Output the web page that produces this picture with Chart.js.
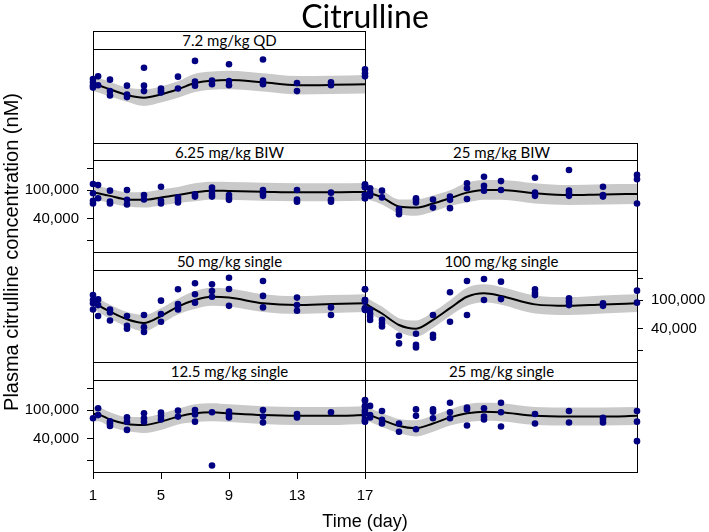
<!DOCTYPE html>
<html>
<head>
<meta charset="utf-8">
<title>Citrulline</title>
<script src="https://cdn.jsdelivr.net/npm/chart.js@4.4.1/dist/chart.umd.min.js"></script>
<style>
  html, body { margin:0; padding:0; background:#fff; }
  #wrap { position:relative; width:709px; height:532px; overflow:hidden; background:#fff; }
  #wrap canvas { position:absolute; left:0; top:0; }
  .txt { position:absolute; color:#000; white-space:nowrap; text-align:center; }
  .strip { position:absolute; box-sizing:border-box; border:1px solid #000; background:#fff;
           text-align:center; font-family:Lato, sans-serif; font-size:15px; line-height:17px; color:#000; }
</style>
</head>
<body>
<div id="wrap"></div>
<script>
// ---------------- data ----------------
const DAYS = [1, 1.3, 2, 3, 4, 5, 6, 7, 8, 9, 11, 13, 15, 17];
const X_TICKS = [1, 5, 9, 13, 17];
const Y_TICKS = [20000, 40000, 100000, 200000];
const Y_TICK_LABELS = ['', '40,000', '100,000', ''];
const X_MIN = 1, X_MAX = 17;
const Y_MIN = 13800, Y_MAX = 261000;

const PANEL_TITLES = ['7.2 mg/kg QD', '6.25 mg/kg BIW', '25 mg/kg BIW', '50 mg/kg single',
                      '100 mg/kg single', '12.5 mg/kg single', '25 mg/kg single'];

// 7.2 mg/kg QD
const medQD72 = [87000,84000,74000,62000,57000,63000,74000,90000,97000,99000,92000,84000,85000,87000];
const hiQD72  = [109000,105000,93000,78000,74000,81000,95000,120000,129000,132000,122000,112000,113000,116000];
const loQD72  = [70000,67000,59000,50000,44000,49000,57000,68000,73000,74000,69000,63000,64000,65000];
const obsQD72 = [[102000,92000,83000,78000],[111000,84000],[100000,70000,61000],[83000,63000,58000],
  [145000,83000,70000],[76000,70000,67000],[110000,76000],[180000,94000,83000],[97000,87000],
  [162000,96000,84000],[188000,97000,87000],[90000,70000],[92000,84000],[138000,122000,111000]];

// 6.25 mg/kg BIW
const medBIW625 = [93000,90000,83000,74000,73000,79000,85000,93000,98000,97000,95000,93000,93000,94000];
const hiBIW625  = [116000,113000,104000,93000,94000,102000,110000,124000,130000,129000,126000,124000,124000,125000];
const loBIW625  = [74000,72000,66000,59000,57000,61000,66000,70000,74000,73000,71000,70000,70000,71000];
const obsBIW625 = [[121000,90000,71000,65000],[117000,77000],[98000,69000,65000],[100000,73000,63000],
  [85000,74000],[111000,71000,65000],[79000,73000,67000],[87000,81000],[108000,98000,88000,81000],
  [85000,78000,73000],[100000,90000,83000],[100000,74000,69000],[92000,74000,69000],[120000,109000,85000,77000]];

// 25 mg/kg BIW
const medBIW25 = [93000,90000,79000,59000,57000,65000,77000,92000,100000,100000,90000,85000,87000,88000];
const hiBIW25  = [116000,113000,99000,74000,74000,84000,99000,127000,138000,138000,124000,117000,120000,121000];
const loBIW25  = [74000,72000,63000,47000,44000,50000,60000,67000,73000,73000,65000,62000,63000,64000];
const obsBIW25 = [[117000,109000,85000,77000],[106000,92000,83000],[98000,79000],[54000,50000,46000],
  [77000,73000,67000],[74000,57000],[81000,73000,56000],[124000,106000,75000],[153000,114000,98000],
  [133000,100000],[148000,92000,83000],[190000,98000,90000,83000],[111000,85000,81000],[162000,141000,65000]];

// 50 mg/kg single
const medS50 = [95000,85000,69000,54000,48000,60000,81000,100000,111000,108000,90000,85000,88000,90000];
const hiS50  = [119000,106000,86000,68000,62000,77000,104000,133000,148000,144000,120000,113000,117000,120000];
const loS50  = [76000,68000,55000,43000,37000,47000,63000,75000,83000,81000,68000,64000,66000,68000];
const obsS50 = [[117000,100000,90000,74000],[102000,85000,60000],[74000,67000,52000],[60000,44000,40000],
  [62000,42000,36000],[98000,64000,50000],[141000,88000,79000,74000],[171000,120000,92000],
  [165000,133000,111000],[204000,142000,83000],[184000,114000,79000],[108000,85000,71000],
  [79000,62000],[141000,100000,77000,73000]];

// 100 mg/kg single
const medS100 = [90000,81000,65000,45000,40000,53000,77000,111000,124000,114000,87000,83000,87000,90000];
const hiS100  = [113000,101000,81000,56000,52000,68000,99000,148000,165000,152000,116000,110000,116000,120000];
const loS100  = [72000,65000,52000,36000,31000,41000,60000,83000,93000,86000,65000,62000,65000,68000];
const obsS100 = [[141000,100000,95000,77000,73000],[73000,65000,59000,53000],[53000,47000,43000],
  [32000,25000],[34000,24000,22000],[62000,33000,30000],[128000,50000],[184000,62000],[196000,100000],
  [180000,103000],[141000,126000,117000],[106000,95000,85000],[90000,83000],[135000,92000]];

// 12.5 mg/kg single
const medS125 = [88000,87000,74000,64000,62000,69000,81000,90000,93000,90000,85000,83000,83000,85000];
const hiS125  = [110000,109000,93000,80000,80000,89000,104000,120000,124000,120000,113000,110000,110000,113000];
const loS125  = [70000,70000,59000,51000,48000,53000,63000,68000,70000,68000,64000,62000,62000,64000];
const obsS125 = [[77000],[106000,85000],[70000,65000,60000],[79000,69000,53000],[90000,77000,69000],
  [92000,83000,74000],[98000,81000],[100000,87000,69000],[93000,17000],[95000,85000,79000],
  [100000,81000,67000],[88000,79000],[93000],[138000,114000,95000,81000,70000]];

// 25 mg/kg single
const medS25 = [90000,85000,73000,60000,56000,65000,79000,90000,95000,93000,83000,81000,81000,83000];
const hiS25  = [113000,106000,91000,75000,72000,84000,102000,120000,126000,124000,110000,108000,108000,110000];
const loS25  = [72000,68000,58000,48000,43000,50000,61000,68000,71000,70000,62000,61000,61000,62000];
const obsS25 = [[135000,111000,100000,90000,74000,69000],[114000,85000,79000],[97000,73000,65000],
  [65000,50000],[102000,83000,54000],[102000,95000,77000],[126000,93000,77000],[108000,102000,61000],
  [106000,81000,74000],[126000,93000,59000],[88000,65000],[97000,67000],[78000,73000,67000],[97000,69000,37000]];

// ---------------- layout / style ----------------
const W = 709, H = 532, AX_LEFT = 90, AX_RIGHT = 70, AX_BOTTOM = 40;
const NAVY = '#000080', BAND = '#c9c9c9';
const TICK_FONT = { family: '"Liberation Sans", Arial, sans-serif', size: 15 };

const PANELS = [
  { title: PANEL_TITLES[0], med: medQD72,   hi: hiQD72,   lo: loQD72,   obs: obsQD72,   rect: [93, 49, 365, 143],  strip: 31,  yAxis: null,    xAxis: false },
  { title: PANEL_TITLES[1], med: medBIW625, hi: hiBIW625, lo: loBIW625, obs: obsBIW625, rect: [93, 160, 365, 252], strip: 143, yAxis: 'left',  xAxis: false },
  { title: PANEL_TITLES[2], med: medBIW25,  hi: hiBIW25,  lo: loBIW25,  obs: obsBIW25,  rect: [365, 160, 637, 252],strip: 143, yAxis: null,    xAxis: false },
  { title: PANEL_TITLES[3], med: medS50,    hi: hiS50,    lo: loS50,    obs: obsS50,    rect: [93, 270, 365, 362], strip: 252, yAxis: null,    xAxis: false },
  { title: PANEL_TITLES[4], med: medS100,   hi: hiS100,   lo: loS100,   obs: obsS100,   rect: [365, 270, 637, 362],strip: 252, yAxis: 'right', xAxis: false },
  { title: PANEL_TITLES[5], med: medS125,   hi: hiS125,   lo: loS125,   obs: obsS125,   rect: [93, 380, 365, 472], strip: 362, yAxis: 'left',  xAxis: true },
  { title: PANEL_TITLES[6], med: medS25,    hi: hiS25,    lo: loS25,    obs: obsS25,    rect: [365, 380, 637, 472],strip: 362, yAxis: null,    xAxis: false }
];

const wrap = document.getElementById('wrap');

const framePlugin = {
  id: 'frame',
  afterDatasetDraw(chart, args) {
    if (args.index !== 1) return;
    const a = chart.chartArea, c = chart.ctx;
    c.save();
    c.strokeStyle = '#000'; c.lineWidth = 1;
    c.strokeRect(Math.round(a.left) + 0.5, Math.round(a.top) + 0.5,
                 Math.round(a.right - a.left), Math.round(a.bottom - a.top));
    c.restore();
  }
};

function makePanel(p) {
  const cv = document.createElement('canvas');
  cv.width = W; cv.height = H;
  cv.style.width = W + 'px'; cv.style.height = H + 'px';
  wrap.appendChild(cv);
  const [l, t, r, b] = p.rect;
  const pts = [];
  p.obs.forEach((vals, i) => vals.forEach(v => pts.push({ x: DAYS[i], y: v })));
  const series = arr => arr.map((v, i) => ({ x: DAYS[i], y: v }));
  const padding = {
    left: l - (p.yAxis === 'left' ? AX_LEFT : 0),
    right: W - r - (p.yAxis === 'right' ? AX_RIGHT : 0),
    top: t,
    bottom: H - b - (p.xAxis ? AX_BOTTOM : 0)
  };
  new Chart(cv, {
    type: 'line',
    data: { datasets: [
      { data: pts, showLine: false, pointRadius: 3.3, pointBackgroundColor: NAVY, pointBorderColor: NAVY,
        pointBorderWidth: 0, clip: false, order: 0 },
      { data: series(p.med), borderColor: '#000', borderWidth: 2, pointRadius: 0,
        cubicInterpolationMode: 'monotone', fill: false, order: 1 },
      { data: series(p.hi), borderColor: 'rgba(0,0,0,0)', borderWidth: 0, pointRadius: 0,
        cubicInterpolationMode: 'monotone', backgroundColor: BAND, fill: '+1', order: 2 },
      { data: series(p.lo), borderColor: 'rgba(0,0,0,0)', borderWidth: 0, pointRadius: 0,
        cubicInterpolationMode: 'monotone', fill: false, order: 3 }
    ]},
    options: {
      responsive: false, animation: false, devicePixelRatio: 1, events: [],
      layout: { padding },
      plugins: { legend: { display: false }, tooltip: { enabled: false }, title: { display: false } },
      scales: {
        x: {
          type: 'linear', min: X_MIN, max: X_MAX, position: 'bottom', display: p.xAxis,
          afterBuildTicks: s => { s.ticks = X_TICKS.map(v => ({ value: v })); },
          afterFit: s => { if (p.xAxis) s.height = AX_BOTTOM; },
          grid: { display: true, drawOnChartArea: false, drawTicks: true, tickLength: 7, color: '#000', lineWidth: 1 },
          border: { display: false },
          ticks: { autoSkip: false, maxRotation: 0, padding: 8, color: '#000', font: TICK_FONT,
                   callback: v => String(v) }
        },
        y: {
          type: 'logarithmic', min: Y_MIN, max: Y_MAX, position: p.yAxis || 'left', display: !!p.yAxis,
          afterBuildTicks: s => { s.ticks = Y_TICKS.map(v => ({ value: v })); },
          afterFit: s => { if (p.yAxis) s.width = (p.yAxis === 'left' ? AX_LEFT : AX_RIGHT); },
          grid: { display: true, drawOnChartArea: false, drawTicks: true, tickLength: 6, color: '#000', lineWidth: 1 },
          border: { display: false },
          ticks: { autoSkip: false, padding: 8, color: '#000', font: TICK_FONT,
                   callback: (v, i) => Y_TICK_LABELS[i] }
        }
      }
    },
    plugins: [framePlugin]
  });
  const s = document.createElement('div');
  s.className = 'strip';
  s.style.left = l + 'px'; s.style.top = p.strip + 'px';
  s.style.width = (r - l + 1) + 'px'; s.style.height = (t - p.strip + 1) + 'px';
  s.style.lineHeight = (t - p.strip - 1) + 'px';
  s.textContent = p.title;
  wrap.appendChild(s);
}

PANELS.forEach(makePanel);

function addText(txt, css) {
  const d = document.createElement('div');
  d.className = 'txt'; d.textContent = txt;
  Object.assign(d.style, css);
  wrap.appendChild(d);
}
addText('Citrulline', { left: '165px', top: '-2px', width: '400px', lineHeight: '36px',
  fontFamily: 'Lato, sans-serif', fontSize: '32px' });
addText('Time (day)', { left: '165px', top: '510px', width: '400px', lineHeight: '22px',
  fontFamily: '"Liberation Sans", Arial, sans-serif', fontSize: '18px' });
addText('Plasma citrulline concentration (nM)', { left: '-189px', top: '241px', width: '400px',
  lineHeight: '22px', fontFamily: '"Liberation Sans", Arial, sans-serif', fontSize: '20px',
  transform: 'rotate(-90deg)', transformOrigin: '50% 50%' });
</script>
</body>
</html>
